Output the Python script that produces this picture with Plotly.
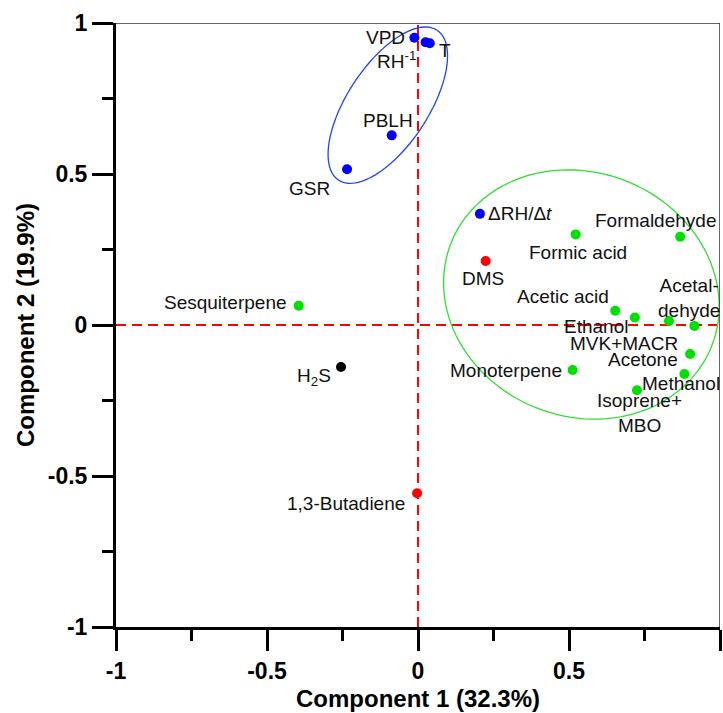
import numpy as np
import plotly.graph_objects as go

# ---------------- data ----------------
labels = ["VPD", "RH<sup>-1</sup>", "T", "PBLH", "GSR", "ΔRH/Δ<i>t</i>",
          "DMS", "Formic acid", "Formaldehyde", "Acetic acid", "Ethanol",
          "MVK+MACR", "Acetal-<br>dehyde", "Acetone", "Methanol",
          "Monoterpene", "Isoprene+<br>MBO", "Sesquiterpene",
          "H<sub>2</sub>S", "1,3-Butadiene"]
comp1 = [-0.012, 0.025, 0.039, -0.087, -0.235, 0.205,
         0.224, 0.522, 0.868, 0.653, 0.718,
         0.831, 0.915, 0.901, 0.882,
         0.512, 0.725, -0.395,
         -0.255, -0.003]
comp2 = [0.951, 0.936, 0.933, 0.628, 0.516, 0.368,
         0.212, 0.300, 0.292, 0.047, 0.025,
         0.013, -0.003, -0.096, -0.162,
         -0.149, -0.216, 0.064,
         -0.139, -0.557]
groups = ["met", "met", "met", "met", "met", "met",
          "red", "voc", "voc", "voc", "voc",
          "voc", "voc", "voc", "voc",
          "voc", "voc", "voc",
          "black", "red"]

tick_vals = [-1, -0.5, 0, 0.5, 1]
tick_text = ["-1", "-0.5", "0", "0.5", "1"]
minor_vals = [-0.75, -0.25, 0.25, 0.75]
x_title = "Component 1 (32.3%)"
y_title = "Component 2 (19.9%)"

# ---------------- styles / layout ----------------
group_colors = {"met": "#0000FF", "voc": "#00E000", "red": "#FF0000", "black": "#000000"}
FONT = "Liberation Sans, Arial, sans-serif"

# label placement: (xanchor, xshift px, yshift px)
label_pos = [("right", -7, 0), ("right", -8, -18), ("left", 7, -7), ("center", -4, 15),
             ("right", -15, -19), ("left", 6, 0),
             ("center", -3, -18), ("center", 2, -18), ("right", 38, 16), ("right", -4, 14),
             ("center", -39, -9),
             ("center", -45, -22), ("center", -5, 28), ("right", -10, -6), ("center", -3, -10),
             ("right", -9, 0), ("center", 3, -23), ("right", -10, 3),
             ("right", -8, -10), ("right", -10, -10)]

# ellipses (center x, center y, semi-axis a, semi-axis b, angle deg, colour)
ellipses = [(-0.100, 0.728, 0.297, 0.134, 56.7, "#2244EE"),
            (0.541, 0.101, 0.464, 0.404, -21.6, "#33DD33")]


def ellipse_path(cx, cy, a, b, ang, n=120):
    t = np.linspace(0, 2 * np.pi, n)
    th = np.deg2rad(ang)
    xs = cx + a * np.cos(t) * np.cos(th) - b * np.sin(t) * np.sin(th)
    ys = cy + a * np.cos(t) * np.sin(th) + b * np.sin(t) * np.cos(th)
    pts = " L".join(f"{x:.4f},{y:.4f}" for x, y in zip(xs, ys))
    return "M" + pts + " Z"


fig = go.Figure()
fig.add_trace(go.Scatter(
    x=comp1, y=comp2, mode="markers",
    marker=dict(size=10, color=[group_colors[g] for g in groups], line=dict(width=0)),
    hoverinfo="skip", showlegend=False))

shapes = []
# zero lines
shapes.append(dict(type="line", xref="x", yref="y", x0=-1, x1=1, y0=0, y1=0,
                   line=dict(color="#FF0000", width=2, dash="10px,6px"), layer="below"))
shapes.append(dict(type="line", xref="x", yref="y", x0=0, x1=0, y0=-1, y1=1,
                   line=dict(color="#FF0000", width=2, dash="10px,6px"), layer="below"))
# ellipses
for cx, cy, a, b, ang, col in ellipses:
    shapes.append(dict(type="path", xref="x", yref="y", path=ellipse_path(cx, cy, a, b, ang),
                       line=dict(color=col, width=1.3), fillcolor="rgba(0,0,0,0)", layer="above"))
# top and right frame
shapes.append(dict(type="line", xref="x", yref="y", x0=-1, x1=1, y0=1, y1=1,
                   line=dict(color="#333333", width=1.5)))
shapes.append(dict(type="line", xref="x", yref="y", x0=1, x1=1, y0=-1, y1=1,
                   line=dict(color="#333333", width=1.5)))

annotations = []
for lab, x, y, (xa, xs, ys) in zip(labels, comp1, comp2, label_pos):
    annotations.append(dict(x=x, y=y, xref="x", yref="y", text=lab, showarrow=False,
                            xanchor=xa, yanchor="middle", xshift=xs, yshift=ys,
                            font=dict(family=FONT, size=19, color="#111111"),
                            align="center"))
annotations.append(dict(x=0, y=0, xref="x", yref="paper", text=x_title, showarrow=False,
                        xanchor="center", yanchor="middle", yshift=-71,
                        font=dict(family=FONT, size=24, color="black", weight="bold")))
annotations.append(dict(x=0, y=0.5, xref="paper", yref="paper", text=y_title, showarrow=False,
                        xanchor="center", yanchor="middle", xshift=-91, textangle=-90,
                        font=dict(family=FONT, size=24, color="black", weight="bold")))

axis_common = dict(range=[-1, 1], showline=True, linewidth=3, linecolor="black",
                   ticks="outside", ticklen=21, tickwidth=3, tickcolor="black",
                   tickvals=tick_vals, ticktext=tick_text,
                   tickfont=dict(family=FONT, size=23, color="black", weight="bold"),
                   showgrid=False, zeroline=False, fixedrange=True,
                   minor=dict(tickvals=minor_vals, ticklen=11, tickwidth=3,
                              tickcolor="black", ticks="outside", showgrid=False))

fig.update_layout(
    width=723, height=713,
    margin=dict(l=116, r=3, t=23, b=86, autoexpand=False),
    paper_bgcolor="white", plot_bgcolor="white",
    xaxis=axis_common, yaxis=axis_common,
    shapes=shapes, annotations=annotations,
    font=dict(family=FONT),
)

fig.write_html("out.html", config={"displayModeBar": False},
               post_script="document.body.style.margin='0px';document.body.style.overflow='hidden';")
